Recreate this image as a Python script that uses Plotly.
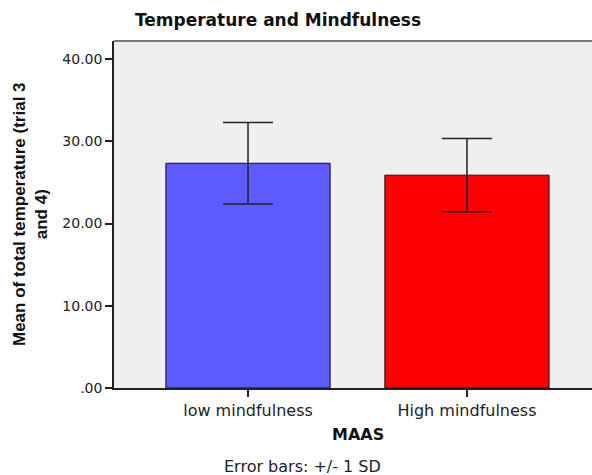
import plotly.graph_objects as go

categories = ["low mindfulness", "High mindfulness"]
means = [27.33, 25.88]
sd = [4.95, 4.45]
bar_colors = ["#5b5bff", "#ff0000"]
y_tickvals = [0, 10, 20, 30, 40]
y_ticktext = [".00", "10.00", "20.00", "30.00", "40.00"]

W, H = 592, 475
L, R, T, B = 114, 0, 41, 87
pw, ph = W - L - R, H - T - B

def px_x(px):
    return (px - L) / pw

def px_y(py):
    return (H - B - py) / ph

fig = go.Figure()
fig.add_trace(go.Bar(
    x=categories, y=means, width=0.75,
    marker=dict(color=bar_colors, line=dict(color="#111111", width=1)),
    error_y=dict(type="data", array=sd, visible=True, color="#222222",
                 thickness=1.5, width=25),
    showlegend=False,
    hoverinfo="skip",
))

fig.update_layout(
    width=W, height=H,
    margin=dict(l=L, r=R, t=T, b=B, autoexpand=False),
    paper_bgcolor="white",
    plot_bgcolor="#efefef",
    font=dict(family="DejaVu Sans", color="#222222"),
    title=dict(text="<b>Temperature and Mindfulness</b>",
               x=278 / W, xanchor="center", xref="container",
               y=1 - 20 / H, yanchor="middle", yref="container",
               font=dict(family="DejaVu Sans", size=17, color="#111111")),
    bargap=0.25,
)
fig.update_xaxes(
    range=[-0.612, 1.571], showgrid=False, zeroline=False,
    showline=True, linecolor="#222222", linewidth=1.5,
    ticks="outside", ticklen=7, tickcolor="#222222", tickwidth=1.5,
    tickfont=dict(family="DejaVu Sans", size=16, color="#222222"),
)
fig.update_yaxes(
    range=[0, 42.2], showgrid=False, zeroline=False,
    showline=True, linecolor="#222222", linewidth=1.5,
    tickvals=y_tickvals, ticktext=y_ticktext,
    ticks="outside", ticklen=7, tickcolor="#222222", tickwidth=1.5,
    tickfont=dict(family="DejaVu Sans", size=14, color="#222222"),
)
fig.add_shape(type="line", xref="paper", yref="paper", x0=0, x1=1, y0=1, y1=1,
              line=dict(color="#7a7a7a", width=2))

fig.add_annotation(text="<b>MAAS</b>", xref="paper", yref="paper",
                   x=px_x(358), y=px_y(434), xanchor="center", yanchor="middle",
                   showarrow=False,
                   font=dict(family="DejaVu Sans", size=16, color="#111111"))
fig.add_annotation(text="Error bars: +/- 1 SD", xref="paper", yref="paper",
                   x=px_x(302), y=px_y(466), xanchor="center", yanchor="middle",
                   showarrow=False,
                   font=dict(family="DejaVu Sans", size=16, color="#222222"))
fig.add_annotation(text="<b>Mean of total temperature (trial 3<br>and 4)</b>",
                   xref="paper", yref="paper", textangle=-90,
                   x=px_x(30), y=px_y(214), xanchor="center", yanchor="middle",
                   showarrow=False,
                   font=dict(family="Liberation Sans", size=17, color="#111111"))

fig.write_html("out.html", config={"displayModeBar": False},
               post_script="document.body.style.margin='0';document.body.style.overflow='hidden';")
